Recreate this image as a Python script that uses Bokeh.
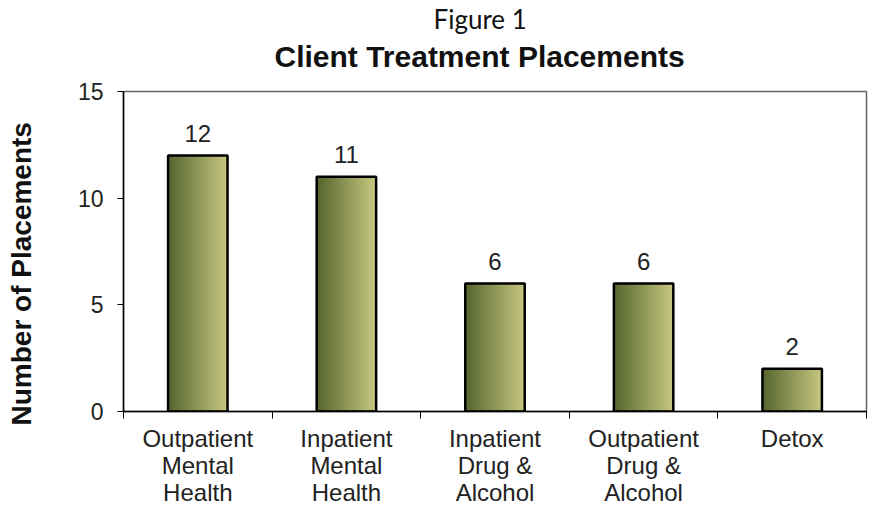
from bokeh.plotting import figure
from bokeh.models import ColumnDataSource, FixedTicker, Range1d, Title
from bokeh.core.properties import value
from bokeh.embed import file_html
from bokeh.resources import INLINE

categories = [
    "Outpatient\nMental\nHealth",
    "Inpatient\nMental\nHealth",
    "Inpatient\nDrug &\nAlcohol",
    "Outpatient\nDrug &\nAlcohol",
    "Detox",
]
placements = [12, 11, 6, 6, 2]
y_ticks = [0, 5, 10, 15]

n = len(categories)
xs = [i + 1 for i in range(n)]
bar_w = 0.4

p = figure(width=870, height=508, x_range=Range1d(0.5, n + 0.5), y_range=Range1d(0, 15),
           output_backend="svg", toolbar_location=None,
           min_border_left=123, min_border_right=4, min_border_top=91, min_border_bottom=97)
p.background_fill_color = "white"
p.border_fill_color = "white"
p.outline_line_color = "#666666"
p.outline_line_width = 1.5
p.xgrid.grid_line_color = None
p.ygrid.grid_line_color = None

# gradient fill via thin overlapping strips
N = 40
c0 = (84, 100, 44)
c1 = (198, 198, 128)
sx, st, sc = [], [], []
for k in range(N):
    t = (k + 0.5) / N
    col = "#%02x%02x%02x" % tuple(int(round(a + (b - a) * t)) for a, b in zip(c0, c1))
    off = -bar_w / 2 + (k + 0.5) * bar_w / N
    for x, v in zip(xs, placements):
        sx.append(x + off)
        st.append(v)
        sc.append(col)
p.vbar(x="x", top="top", width=bar_w / N * 1.8, bottom=0, fill_color="c", line_color=None,
       source=ColumnDataSource(dict(x=sx, top=st, c=sc)))

src = ColumnDataSource(dict(x=xs, top=placements, lab=[str(v) for v in placements]))
p.vbar(x="x", top="top", width=bar_w, bottom=0, fill_color=None, line_color="black",
       line_width=2.5, source=src)
p.text(x="x", y="top", text="lab", source=src, text_align="center", text_baseline="bottom",
       y_offset=-14, text_font=value("Liberation Sans"), text_font_size="24px", text_color="#222222")

# axes
xa = p.xaxis[0]
xa.ticker = FixedTicker(ticks=xs, minor_ticks=[i + 0.5 for i in range(n + 1)])
xa.major_label_overrides = {x: c for x, c in zip(xs, categories)}
xa.major_tick_line_color = None
xa.major_tick_out = 0
xa.major_tick_in = 0
xa.minor_tick_out = 7
xa.minor_tick_in = 0
xa.minor_tick_line_color = "black"
xa.axis_line_color = "black"
xa.axis_line_width = 1.5
xa.major_label_standoff = 6
xa.major_label_text_font = "Liberation Sans"
xa.major_label_text_font_size = "24px"
xa.major_label_text_line_height = 1.0
xa.major_label_text_color = "#222222"

ya = p.yaxis[0]
ya.ticker = FixedTicker(ticks=y_ticks)
ya.minor_tick_line_color = None
ya.major_tick_out = 6
ya.major_tick_in = 0
ya.major_tick_line_color = "black"
ya.axis_line_color = "black"
ya.axis_line_width = 1.5
ya.major_label_standoff = 14
ya.major_label_text_font = "Liberation Sans"
ya.major_label_text_font_size = "23px"
ya.major_label_text_color = "#222222"

# y-axis title (placed as a left-side title so it can sit low, as in the original)
p.add_layout(Title(text=" ", align="left", text_font_size="1px", standoff=35), "left")
p.add_layout(Title(text="Number of Placements", align="left", offset=-14,
                   text_font="Liberation Sans", text_font_style="bold", text_font_size="28px",
                   text_color="#111111", standoff=0), "left")

p.add_layout(Title(text=" ", align="left", text_font_size="1px", standoff=12), "above")
p.add_layout(Title(text="Client Treatment Placements", align="left", offset=151,
                   text_font="Liberation Sans", text_font_style="bold", text_font_size="30px",
                   text_color="#111111", standoff=7), "above")
p.add_layout(Title(text="Figure 1", align="left", offset=310,
                   text_font="Lato", text_font_style="normal", text_font_size="26px",
                   text_color="#111111", standoff=0), "above")

open("out.html", "w").write(file_html(p, INLINE))
